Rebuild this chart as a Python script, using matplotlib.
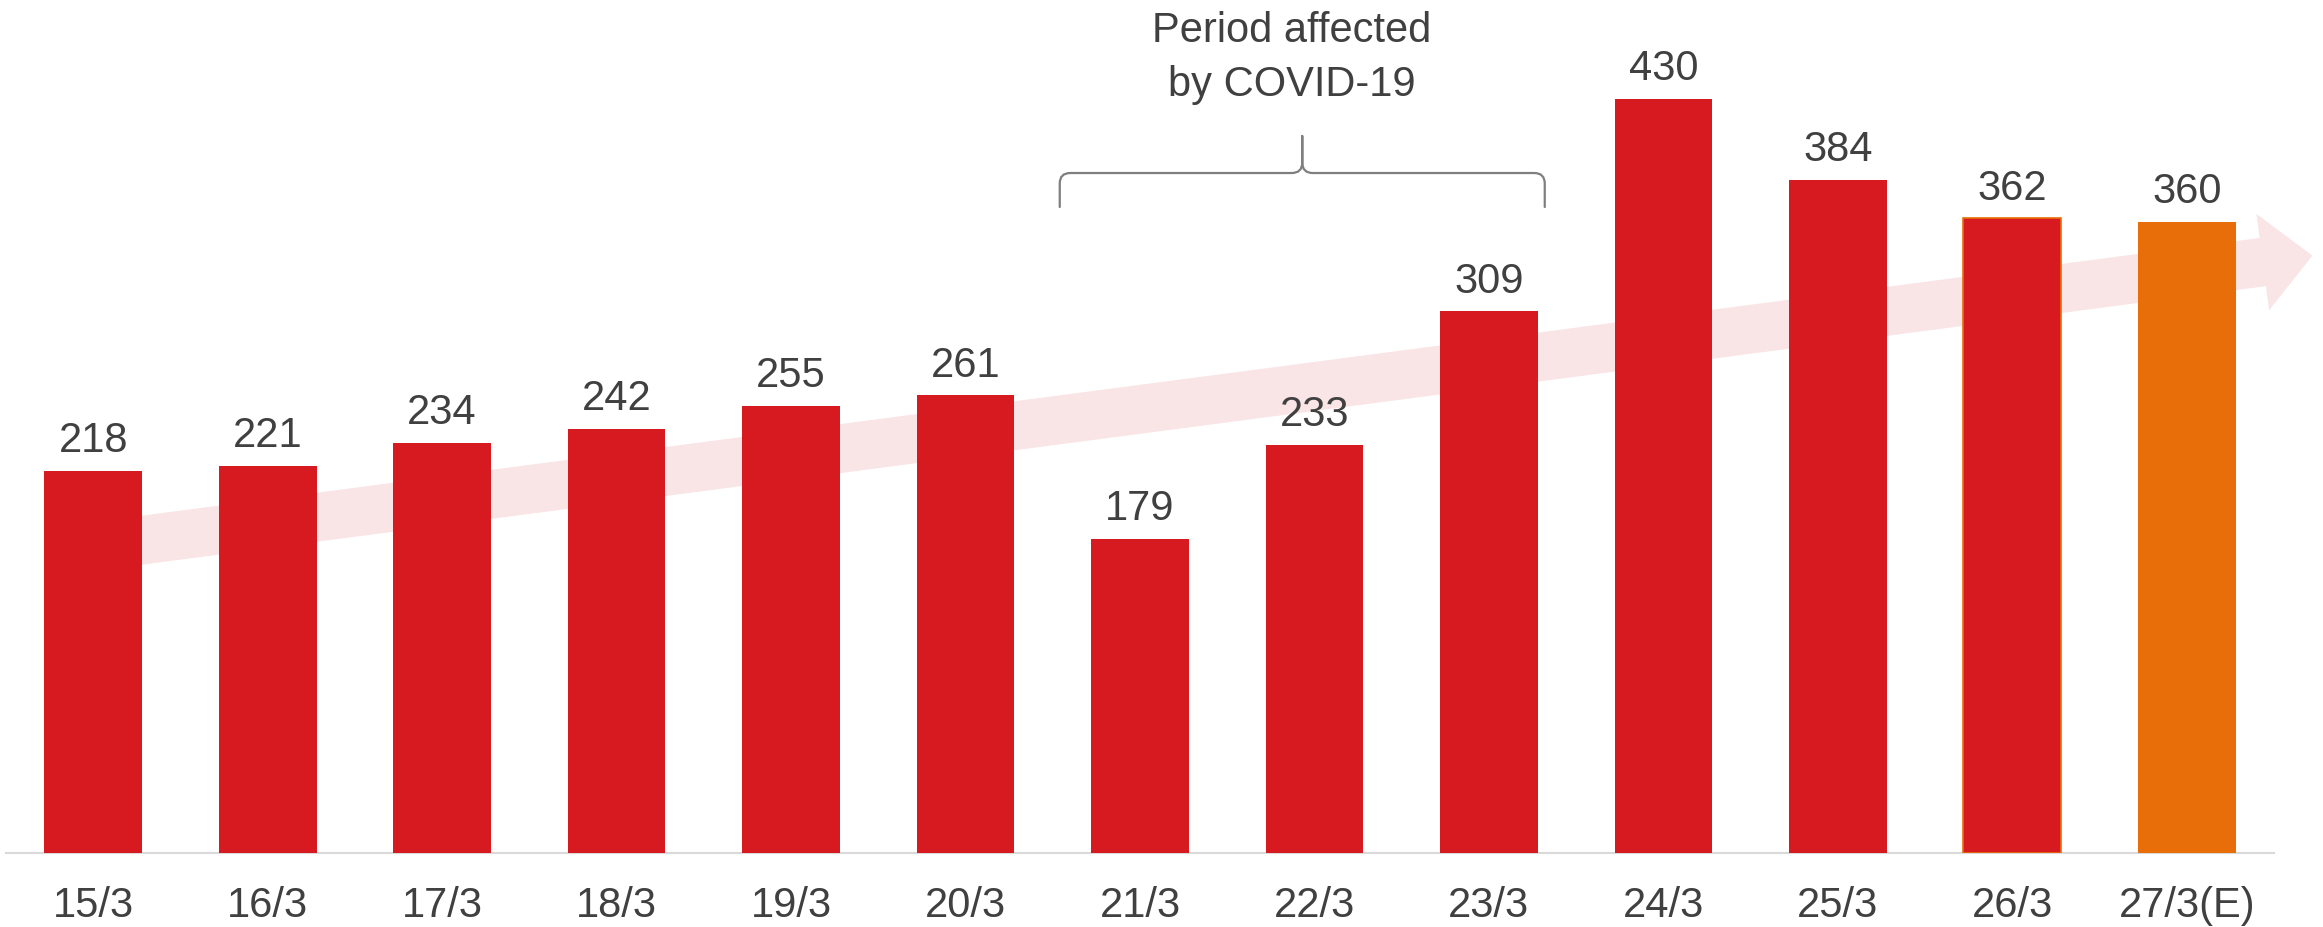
#!/usr/bin/env python
# -*- coding: utf-8 -*-
"""
Daily bar chart with the COVID-19 period marked by a brace.
"""
# =========================================================================== #
#  SECTION: Imports
# =========================================================================== #
import matplotlib
matplotlib.use("Agg")
import matplotlib.pyplot as plt
from matplotlib.path import Path
from matplotlib.patches import PathPatch
import numpy as np

# =========================================================================== #
#  SECTION: Data
# =========================================================================== #
days = ["15/3", "16/3", "17/3", "18/3", "19/3", "20/3", "21/3",
        "22/3", "23/3", "24/3", "25/3", "26/3", "27/3(E)"]
values = [218, 221, 234, 242, 255, 261, 179, 233, 309, 430, 384, 362, 360]
# last day is an estimate
estimate = [False] * 12 + [True]
covid_note = "Period affected\nby COVID-19"
covid_days = ("21/3", "23/3")

# =========================================================================== #
#  SECTION: Style
# =========================================================================== #
RED = "#D71920"
ORANGE = "#E86E0A"
PINK = "#F9E4E6"
TEXT = "#404040"
GREY = "#7F7F7F"

plt.rcParams["font.family"] = ["Liberation Sans", "DejaVu Sans"]

# =========================================================================== #
#  SECTION: Main Body
# =========================================================================== #
fig = plt.figure(figsize=(23.23, 9.27), dpi=100)
ax = fig.add_axes([6 / 2323, 74 / 927, 2268 / 2323, 853 / 927])

x = np.arange(len(days))
colors = [ORANGE if e else RED for e in estimate]
bars = ax.bar(x, values, width=0.56, color=colors, zorder=3)
# the bar before the estimate has a thin orange outline
bars[-2].set_edgecolor(ORANGE)
bars[-2].set_linewidth(1.2)

for xi, v in zip(x, values):
    ax.annotate(str(v), (xi, v), xytext=(0, 7), textcoords="offset points",
                ha="center", va="bottom", fontsize=30, color=TEXT)

# trend arrow in the background (tail hidden behind the first bar)
ax.annotate("", xy=(12.72, 340.8), xytext=(0.0, 174.8),
            annotation_clip=False, zorder=1,
            arrowprops=dict(arrowstyle="simple,head_length=36,head_width=70,"
                                       "tail_width=35",
                            mutation_scale=1, color=PINK, lw=0,
                            shrinkA=0, shrinkB=0))

# brace over the covid period
i0 = days.index(covid_days[0])
i1 = days.index(covid_days[1])
xl, xr = i0 - 0.46, i1 + 0.32
xc = (xl + xr) / 2
yb, yt, ytip = 368.5, 387.9, 409.0
rx, ry = 0.06, 6.0
verts = [(xl, yb), (xl, yt - ry), (xl, yt), (xl + rx, yt),
         (xc - rx, yt), (xc, yt), (xc, yt + ry), (xc, ytip),
         (xc, ytip), (xc, yt + ry), (xc, yt), (xc + rx, yt),
         (xr - rx, yt), (xr, yt), (xr, yt - ry), (xr, yb)]
codes = [Path.MOVETO, Path.LINETO, Path.CURVE3, Path.CURVE3,
         Path.LINETO, Path.CURVE3, Path.CURVE3, Path.LINETO,
         Path.MOVETO, Path.LINETO, Path.CURVE3, Path.CURVE3,
         Path.LINETO, Path.CURVE3, Path.CURVE3, Path.LINETO]
ax.add_patch(PathPatch(Path(verts, codes), fill=False, edgecolor=GREY,
                       lw=1.6, capstyle="round", zorder=2))
ax.text(xc - 0.06, 453.5, covid_note, ha="center", va="center", fontsize=30,
        color=TEXT, linespacing=1.45)

# axes
ax.set_xlim(-0.5, 12.5)
ax.set_ylim(0, 486.6)
ax.set_xticks(x)
ax.set_xticklabels(days)
ax.tick_params(axis="x", length=0, pad=24, labelsize=30, labelcolor=TEXT)
ax.set_yticks([])
for side in ["top", "left", "right"]:
    ax.spines[side].set_visible(False)
ax.spines["bottom"].set_color("#D9D9D9")
ax.spines["bottom"].set_linewidth(1.5)

fig.savefig("out.png", dpi=100)
